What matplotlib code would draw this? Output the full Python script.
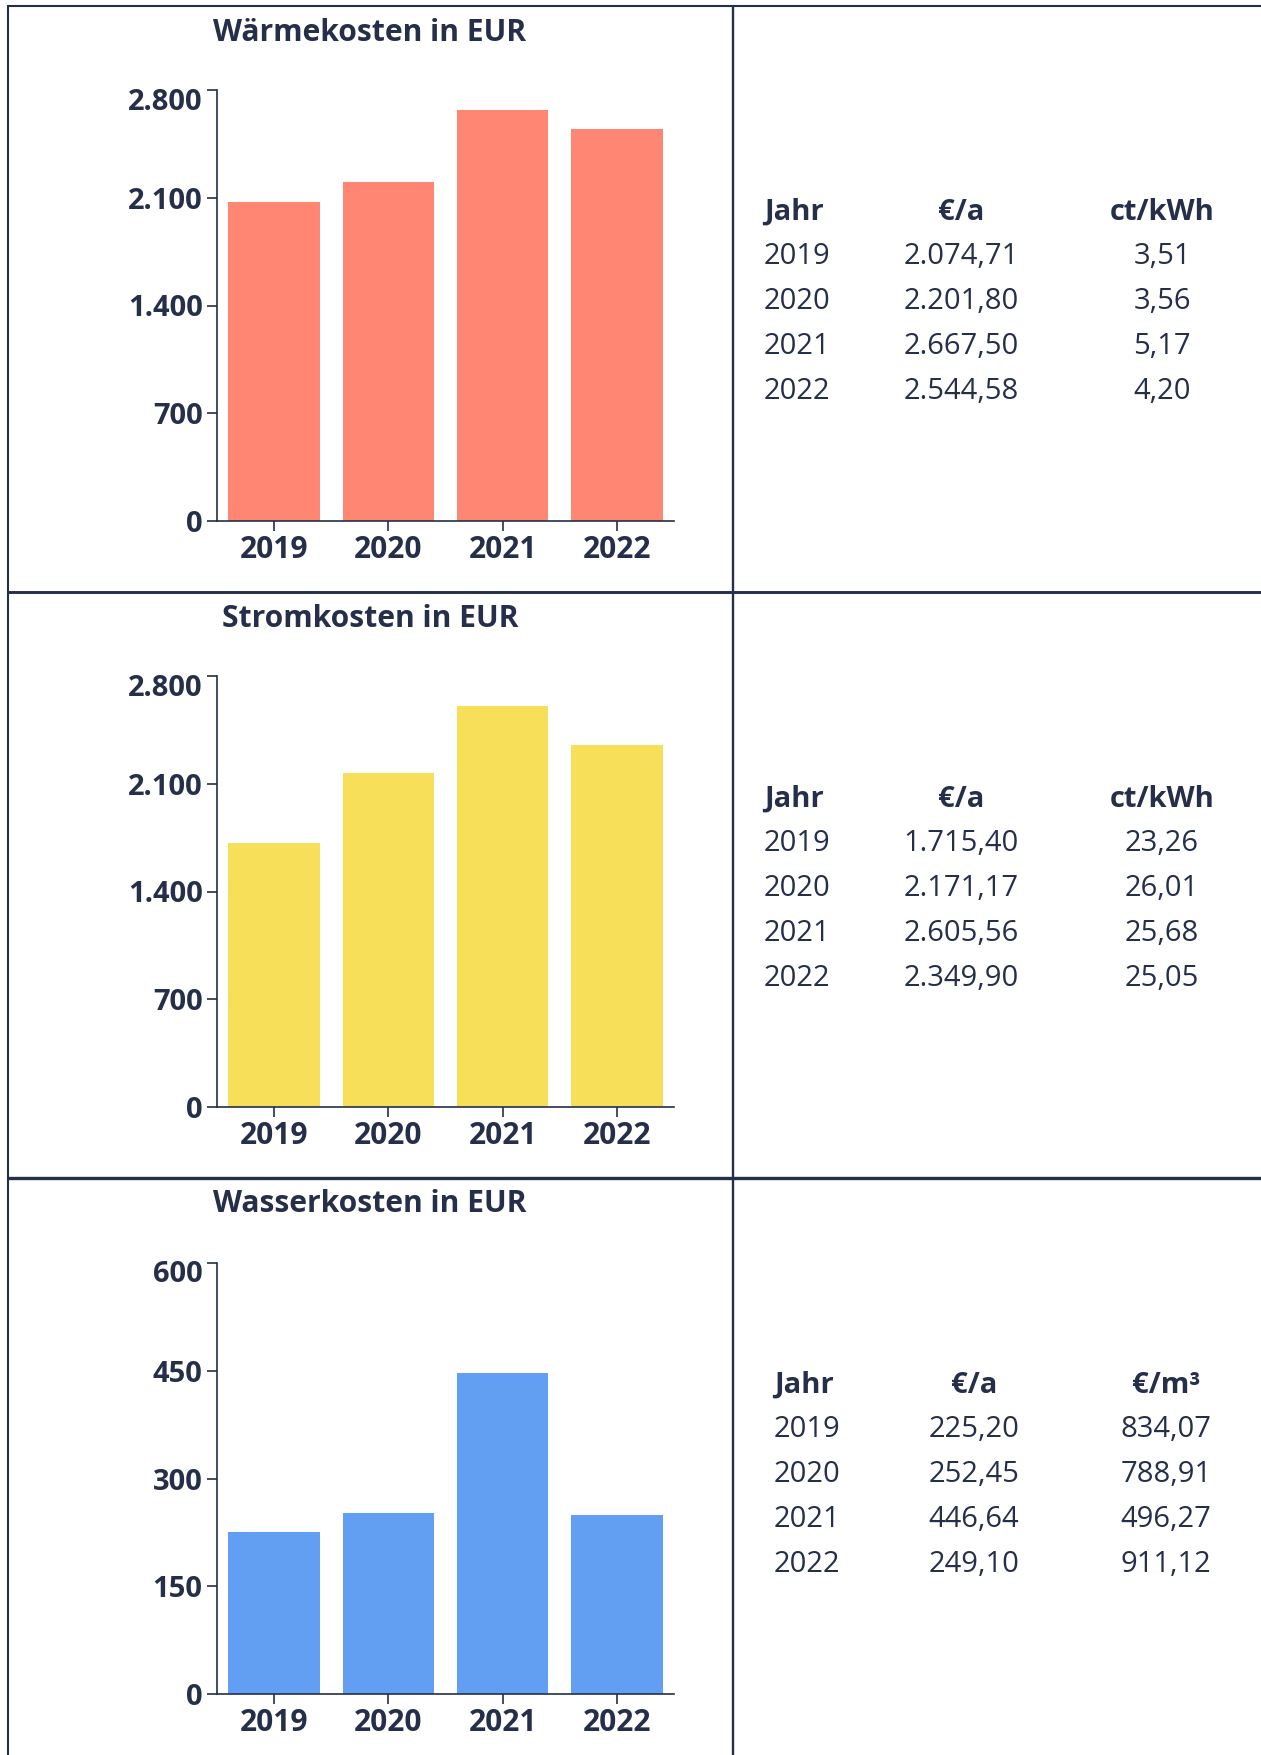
import matplotlib
matplotlib.use("Agg")
import matplotlib.pyplot as plt
from matplotlib.lines import Line2D
from matplotlib.ticker import FuncFormatter
from matplotlib.transforms import ScaledTranslation

# ---------------- data ----------------
years = ["2019", "2020", "2021", "2022"]

titles = ["Wärmekosten in EUR", "Stromkosten in EUR", "Wasserkosten in EUR"]

waerme_eur = [2074.71, 2201.80, 2667.50, 2544.58]
waerme_ct = [3.51, 3.56, 5.17, 4.20]

strom_eur = [1715.40, 2171.17, 2605.56, 2349.90]
strom_ct = [23.26, 26.01, 25.68, 25.05]

wasser_eur = [225.20, 252.45, 446.64, 249.10]
wasser_m3 = [834.07, 788.91, 496.27, 911.12]

y_max = [2800, 2800, 600]
y_step = [700, 700, 150]

col_headers = [["Jahr", "€/a", "ct/kWh"],
               ["Jahr", "€/a", "ct/kWh"],
               ["Jahr", "€/a", "€/m³"]]

bar_colors = ["#FF8673", "#F7DF5A", "#629FF3"]

# ---------------- style ----------------
W, H = 1261, 1755
DPI = 100
TXT = "#252F4A"
plt.rcParams["font.family"] = ["Open Sans", "DejaVu Sans"]

fig = plt.figure(figsize=(W / DPI, H / DPI), dpi=DPI)
fig.patch.set_facecolor("white")


def fx(px):
    return px / W


def fy(py):
    return 1 - py / H


def de_num(v, dec=2):
    s = f"{v:,.{dec}f}"
    return s.replace(",", "X").replace(".", ",").replace("X", ".")


def de_int(v, pos=None):
    return f"{int(round(v)):,}".replace(",", ".")


series_eur = [waerme_eur, strom_eur, wasser_eur]
series_unit = [waerme_ct, strom_ct, wasser_m3]

ax_left, ax_right = 217, 674
ax_h = 431
ax_tops = [90, 676, 1263]
title_bases = [41, 627, 1212]
top_label_shift = [9, 9, 8]

# table geometry per panel (x of columns)
tab_x = [(764, 961, 1162), (764, 961, 1162), (774, 974, 1166)]
tab_heads = [220, 807, 1393]
row_step = 45

for i in range(3):
    top = ax_tops[i]
    ax = fig.add_axes([fx(ax_left), fy(top + ax_h), fx(ax_right - ax_left), ax_h / H])
    ax.bar(range(len(years)), series_eur[i], width=0.8, color=bar_colors[i], zorder=2)
    ax.set_xlim(-0.5, len(years) - 0.5)
    ax.set_ylim(0, y_max[i])
    ax.set_yticks(list(range(0, y_max[i] + 1, y_step[i])))
    ax.yaxis.set_major_formatter(FuncFormatter(de_int))
    ax.set_xticks(range(len(years)))
    ax.set_xticklabels(years)
    for s in ["top", "right"]:
        ax.spines[s].set_visible(False)
    for s in ["left", "bottom"]:
        ax.spines[s].set_color(TXT)
        ax.spines[s].set_linewidth(1.2)
    ax.tick_params(axis="both", colors=TXT, length=7.3, width=1.2, pad=3)
    ax.tick_params(axis="y", labelsize=21)
    ax.tick_params(axis="x", labelsize=21.5)
    for lab in ax.get_xticklabels() + ax.get_yticklabels():
        lab.set_fontweight("bold")
        lab.set_color(TXT)
    ylabs = ax.get_yticklabels()
    shift = ScaledTranslation(0, -top_label_shift[i] / DPI, fig.dpi_scale_trans)
    ylabs[-1].set_transform(ylabs[-1].get_transform() + shift)
    ax.set_facecolor("none")

    # title
    fig.text(fx(370), fy(title_bases[i]), titles[i], ha="center", va="baseline",
             fontsize=21.6, fontweight="bold", color=TXT)

    # table
    cx = tab_x[i]
    hb = tab_heads[i]
    hdr = col_headers[i]
    fig.text(fx(cx[0]), fy(hb), hdr[0], ha="left", va="baseline",
             fontsize=21, fontweight="bold", color=TXT)
    fig.text(fx(cx[1]), fy(hb), hdr[1], ha="center", va="baseline",
             fontsize=21, fontweight="bold", color=TXT)
    fig.text(fx(cx[2]), fy(hb), hdr[2], ha="center", va="baseline",
             fontsize=21, fontweight="bold", color=TXT)
    for r, yr in enumerate(years):
        yb = hb + 44 + r * row_step
        fig.text(fx(cx[0]), fy(yb), yr, ha="left", va="baseline",
                 fontsize=21, color=TXT)
        fig.text(fx(cx[1]), fy(yb), de_num(series_eur[i][r]), ha="center",
                 va="baseline", fontsize=21, color=TXT)
        fig.text(fx(cx[2]), fy(yb), de_num(series_unit[i][r]), ha="center",
                 va="baseline", fontsize=21, color=TXT)

# ---------------- frame lines ----------------
def hline(y, x0, x1, lw):
    fig.add_artist(Line2D([fx(x0), fx(x1)], [fy(y), fy(y)], color=TXT, lw=lw,
                          transform=fig.transFigure, solid_capstyle="butt"))


def vline(x, y0, y1, lw):
    fig.add_artist(Line2D([fx(x), fx(x)], [fy(y0), fy(y1)], color=TXT, lw=lw,
                          transform=fig.transFigure, solid_capstyle="butt"))


hline(6, 6.5, W, 1.5)
vline(7.5, 5, H, 1.5)
vline(733, 5, H, 1.7)
hline(591.5, 6.5, W, 2.1)
hline(1178, 6.5, W, 2.4)

fig.savefig("out.png", dpi=DPI, facecolor="white")
